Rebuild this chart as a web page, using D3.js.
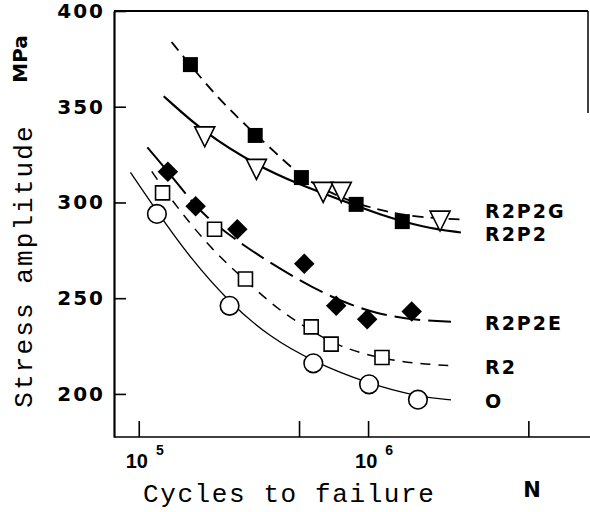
<!DOCTYPE html>
<html>
<head>
<meta charset="utf-8">
<title>Stress amplitude vs cycles to failure</title>
<script src="https://d3js.org/d3.v7.min.js"></script>
<style>
  body { margin: 0; background: #fff; }
</style>
</head>
<body>
<div id="chart"></div>
<script>
// axis ticks
let yTicks = [200, 250, 300, 350, 400];
let xTicks = [1e5, 5e5, 1e6, 5e6];
let xLabelTicks = [1e5, 1e6];
let xLabelExp = ["5", "6"];

// series names, top to bottom on the right side
let names = ["R2P2G", "R2P2", "R2P2E", "R2", "O"];

// measured points: cycles N and stress amplitude (MPa)
let nR2P2G = [1.68e5, 3.22e5, 5.12e5, 8.87e5, 1.41e6];
let sR2P2G = [372, 335, 313, 299, 290];
let nR2P2 = [1.94e5, 3.26e5, 6.37e5, 7.64e5, 2.06e6];
let sR2P2 = [336, 319, 307, 307, 292];
let nR2P2E = [1.34e5, 1.77e5, 2.69e5, 5.27e5, 7.26e5, 9.91e5, 1.55e6];
let sR2P2E = [316, 298, 286, 268, 246, 239, 243];
let nR2 = [1.27e5, 2.14e5, 2.92e5, 5.65e5, 6.90e5, 1.15e6];
let sR2 = [305, 286, 260, 235, 226, 219];
let nO = [1.20e5, 2.49e5, 5.77e5, 1.01e6, 1.65e6];
let sO = [294, 246, 216, 205, 197];

// fitted curves
let fitNR2P2G = [1.39e5, 1.68e5, 2.18e5, 2.75e5, 3.23e5, 4.10e5, 5.11e5, 6.77e5, 8.87e5, 1.23e6, 1.67e6, 2.56e6];
let fitSR2P2G = [383.8, 371.7, 355.5, 343.5, 335.6, 324.1, 313.6, 305.2, 299.5, 294.8, 292.2, 291.1];
let fitNR2P2 = [1.285e5, 1.94e5, 3.26e5, 5.01e5, 7.48e5, 1.12e6, 1.75e6, 2.54e6];
let fitSR2P2 = [355.5, 336.1, 319.4, 309.4, 301.6, 293.7, 286.9, 284.3];
let fitNR2P2E = [1.09e5, 1.34e5, 1.77e5, 2.08e5, 2.89e5, 4.54e5, 6.77e5, 1.09e6, 1.75e6, 2.3e6];
let fitSR2P2E = [328.8, 316.2, 297.9, 290.1, 277.0, 262.3, 250.8, 241.4, 238.2, 237.7];
let fitNR2 = [1.14e5, 1.27e5, 1.52e5, 2.08e5, 2.92e5, 4.10e5, 5.65e5, 7.48e5, 1.15e6, 1.67e6, 2.37e6];
let fitSR2 = [316.2, 307.9, 295.3, 275.4, 259.2, 243.5, 233.0, 224.6, 218.3, 215.7, 214.7];
let fitNO = [9.2e4, 1.2e5, 1.67e5, 2.49e5, 3.71e5, 5.77e5, 1.01e6, 1.67e6, 2.3e6];
let fitSO = [315.7, 295.3, 271.2, 247.6, 229.8, 216.8, 205.2, 198.4, 196.9];

let margin = {top: 11, right: 2, bottom: 75, left: 114};
let w = 590 - margin.left - margin.right;
let h = 512 - margin.top - margin.bottom;

let root = d3.select("#chart")
    .append("svg")
        .attr("width", 590)
        .attr("height", 512);

let svg = root.append("g")
        .attr("transform", "translate(" + margin.left + "," + margin.top + ")");

let xScale = d3.scaleLog()
               .domain([7.8e4, 9.1e6])
               .range([0, w]);

let yScale = d3.scaleLinear()
               .domain([177.5, 400])
               .range([h, 0]);

let bold = "'DejaVu Sans', sans-serif";
let mono = "'Liberation Mono', 'Courier New', monospace";

// frame: top line and the short piece of right border that survives
svg.append("line")
    .attr("x1", 0).attr("y1", 0).attr("x2", w).attr("y2", 0)
    .attr("stroke", "#000").attr("stroke-width", 2);
svg.append("line")
    .attr("x1", w).attr("y1", 0).attr("x2", w).attr("y2", 102)
    .attr("stroke", "#000").attr("stroke-width", 1.5);

// y axis, ticks pointing inward
let yAxis = d3.axisLeft(yScale)
              .tickValues(yTicks)
              .tickSize(-12)
              .tickSizeOuter(0)
              .tickPadding(9);
let gy = svg.append("g").call(yAxis);
gy.select(".domain").attr("stroke-width", 2.2);
gy.selectAll(".tick line").attr("stroke-width", 1.6);
gy.selectAll(".tick text")
    .attr("font-family", bold)
    .attr("font-weight", "bold")
    .attr("font-size", "20px")
    .attr("letter-spacing", "2px")
    .attr("fill", "#000");

// x axis, log scale, ticks pointing inward
let xAxis = d3.axisBottom(xScale)
              .tickValues(xTicks)
              .tickSize(-16)
              .tickSizeOuter(0)
              .tickFormat("");
let gx = svg.append("g")
    .attr("transform", "translate(0," + h + ")")
    .call(xAxis);
gx.select(".domain").remove();
gx.selectAll(".tick line").attr("stroke-width", 1.6);
gx.append("line")
    .attr("x1", 0).attr("x2", w + 2)
    .attr("stroke", "#000").attr("stroke-width", 1.6);

// 10^5, 10^6 labels
xLabelTicks.forEach(function(v, i) {
    let t = svg.append("text")
        .attr("x", xScale(v) - 13)
        .attr("y", h + 31)
        .attr("font-family", "'Liberation Sans', Arial, sans-serif")
        .attr("font-weight", "bold")
        .attr("font-size", "20px")
        .text("10");
    t.append("tspan")
        .attr("dx", 8)
        .attr("dy", -13)
        .attr("font-size", "14px")
        .text(xLabelExp[i]);
});

// curves
let line = d3.line()
    .x(function(d) { return xScale(d[0]); })
    .y(function(d) { return yScale(d[1]); })
    .curve(d3.curveBasis);

function drawCurve(nArr, sArr, dash, width) {
    svg.append("path")
        .datum(d3.zip(nArr, sArr))
        .attr("d", line)
        .attr("fill", "none")
        .attr("stroke", "#000")
        .attr("stroke-width", width)
        .attr("stroke-dasharray", dash);
}

drawCurve(fitNR2P2G, fitSR2P2G, "11,7", 1.8);
drawCurve(fitNR2P2, fitSR2P2, null, 2.2);
drawCurve(fitNR2P2E, fitSR2P2E, "26,8", 2);
drawCurve(fitNR2, fitSR2, "10,8", 1.5);
drawCurve(fitNO, fitSO, null, 1.3);

// markers
function drawMarkers(nArr, sArr, d, fill, rot) {
    svg.selectAll(null)
        .data(d3.zip(nArr, sArr))
        .enter()
        .append("path")
        .attr("transform", function(p) {
            return "translate(" + xScale(p[0]) + "," + yScale(p[1]) + ") rotate(" + rot + ")";
        })
        .attr("d", d)
        .attr("fill", fill)
        .attr("stroke", "#000")
        .attr("stroke-width", fill == "#000" ? 0 : 1.6);
}

let tri = "M-10,-6.7L10,-6.7L0,13.3Z";
drawMarkers(nR2P2G, sR2P2G, d3.symbol(d3.symbolSquare, 15 * 15)(), "#000", 0);
drawMarkers(nR2P2, sR2P2, tri, "#fff", 0);
drawMarkers(nR2P2E, sR2P2E, d3.symbol(d3.symbolSquare, 14.5 * 14.5)(), "#000", 45);
drawMarkers(nR2, sR2, d3.symbol(d3.symbolSquare, 14 * 14)(), "#fff", 0);
drawMarkers(nO, sO, d3.symbol(d3.symbolCircle, Math.PI * 9.3 * 9.3)(), "#fff", 0);

// series names at the end of each curve, pushed apart when they collide
let ends = [fitSR2P2G, fitSR2P2, fitSR2P2E, fitSR2, fitSO].map(function(a) {
    return yScale(a[a.length - 1]) + 8;
});
for (let i = ends.length - 2; i >= 0; i--) {
    ends[i] = Math.min(ends[i], ends[i + 1] - 23);
}
svg.selectAll(null)
    .data(names)
    .enter()
    .append("text")
    .attr("x", 485 - margin.left)
    .attr("y", function(d, i) { return ends[i]; })
    .attr("font-family", bold)
    .attr("font-weight", "bold")
    .attr("font-size", "19px")
    .attr("letter-spacing", "2px")
    .text(function(d) { return d; });

// axis titles
root.append("text")
    .attr("transform", "translate(27,59) rotate(-90)")
    .attr("text-anchor", "middle")
    .attr("font-family", bold)
    .attr("font-weight", "bold")
    .attr("font-size", "20px")
    .text("MPa");

root.append("text")
    .attr("transform", "translate(32,266) rotate(-90)")
    .attr("text-anchor", "middle")
    .attr("font-family", mono)
    .attr("font-size", "26px")
    .attr("letter-spacing", "2.1px")
    .text("Stress amplitude");

root.append("text")
    .attr("x", 143)
    .attr("y", 502)
    .attr("font-family", mono)
    .attr("font-size", "26px")
    .attr("letter-spacing", "1.6px")
    .text("Cycles to failure");

root.append("text")
    .attr("x", 532)
    .attr("y", 497)
    .attr("text-anchor", "middle")
    .attr("font-family", bold)
    .attr("font-weight", "bold")
    .attr("font-size", "21px")
    .text("N");
</script>
</body>
</html>
